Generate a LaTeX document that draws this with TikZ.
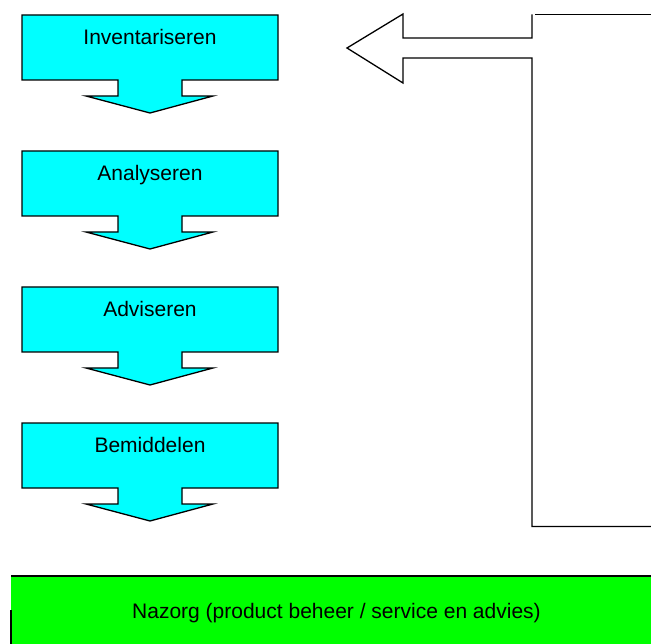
\documentclass[tikz,border=0pt]{standalone}
\usepackage{fontspec}
\setmainfont{Liberation Sans}
\usepackage{xcolor}
\usepackage{tikz}
\definecolor{stapcyan}{RGB}{0,255,255}
\definecolor{nazorggroen}{RGB}{0,255,0}
\tikzset{stap/.style={draw=black, line width=1.3pt, fill=stapcyan, line join=miter},
  terug/.style={draw=black, line width=1.3pt, line join=miter},
  tekst/.style={anchor=base, font=\fontsize{21}{25}\selectfont}}

\begin{document}
\begin{tikzpicture}[x=1pt,y=-1pt]
\useasboundingbox (0,0) rectangle (651,644);
% stappen
\foreach \t/\naam in {15/Inventariseren,151/Analyseren,287/Adviseren,423/Bemiddelen}{
\draw[stap] (22,\t) -- (278,\t) -- (278,\t+65) -- (182,\t+65) -- (182,\t+81) -- (213,\t+81) -- (150,\t+98) -- (86,\t+81) -- (118,\t+81) -- (118,\t+65) -- (22,\t+65) -- cycle;
\node[tekst] (\naam) at (150,\t+30) {\naam};
}
% terugkoppeling
\draw[terug] (532,14.5) -- (532,38) -- (403,38) -- (403,14) -- (347,48) -- (403,83) -- (403,58) -- (532,58) -- (532,526.5) -- (651,526.5);
\draw[terug] (535,14.5) -- (651,14.5);
% nazorg
\fill[nazorggroen] (11,576) rectangle (651,644);
\draw[terug] (11,576) -- (651,576);
\draw[terug] (11,610) -- (11,644);
\node[tekst] (Nazorg) at (336.5,618) {Nazorg (product beheer / service en advies)};
\end{tikzpicture}
\end{document}
